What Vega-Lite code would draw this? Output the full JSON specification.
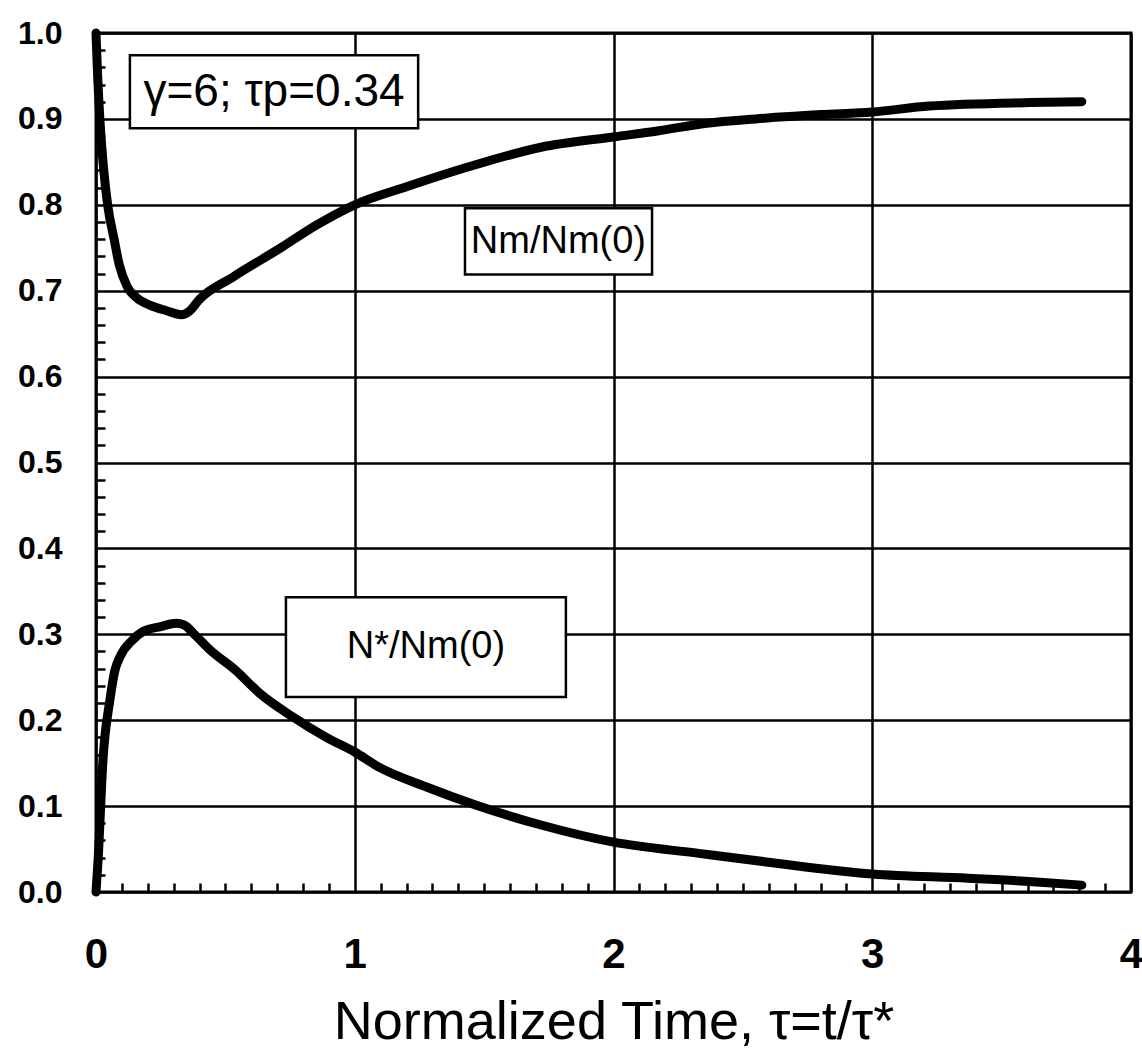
{
  "$schema": "https://vega.github.io/schema/vega-lite/v6.json",
  "width": 1035,
  "height": 859,
  "autosize": {"type": "none"},
  "padding": {"left": 96, "top": 33, "right": 11, "bottom": 165},
  "background": "white",
  "config": {
    "view": {"stroke": "black", "strokeWidth": 3},
    "font": "Liberation Sans"
  },
  "datasets": {
    "curves": [
      {"series": "Nm", "t": 0.0, "v": 1.0},
      {"series": "Nm", "t": 0.005, "v": 0.96},
      {"series": "Nm", "t": 0.015, "v": 0.9},
      {"series": "Nm", "t": 0.03, "v": 0.84},
      {"series": "Nm", "t": 0.045, "v": 0.8},
      {"series": "Nm", "t": 0.07, "v": 0.76},
      {"series": "Nm", "t": 0.09, "v": 0.73},
      {"series": "Nm", "t": 0.12, "v": 0.705},
      {"series": "Nm", "t": 0.16, "v": 0.691},
      {"series": "Nm", "t": 0.21, "v": 0.683},
      {"series": "Nm", "t": 0.27, "v": 0.677},
      {"series": "Nm", "t": 0.33, "v": 0.672},
      {"series": "Nm", "t": 0.36, "v": 0.676},
      {"series": "Nm", "t": 0.4, "v": 0.69},
      {"series": "Nm", "t": 0.53, "v": 0.716},
      {"series": "Nm", "t": 0.72, "v": 0.751},
      {"series": "Nm", "t": 0.85, "v": 0.776},
      {"series": "Nm", "t": 1.0, "v": 0.8},
      {"series": "Nm", "t": 1.2, "v": 0.821},
      {"series": "Nm", "t": 1.46, "v": 0.846},
      {"series": "Nm", "t": 1.72, "v": 0.867},
      {"series": "Nm", "t": 2.0, "v": 0.879},
      {"series": "Nm", "t": 2.17, "v": 0.886},
      {"series": "Nm", "t": 2.36, "v": 0.895},
      {"series": "Nm", "t": 2.55, "v": 0.9},
      {"series": "Nm", "t": 2.8, "v": 0.905},
      {"series": "Nm", "t": 3.0, "v": 0.908},
      {"series": "Nm", "t": 3.22, "v": 0.915},
      {"series": "Nm", "t": 3.61, "v": 0.919},
      {"series": "Nm", "t": 3.81, "v": 0.92},
      {"series": "Ns", "t": 0.0, "v": 0.0},
      {"series": "Ns", "t": 0.008, "v": 0.037},
      {"series": "Ns", "t": 0.027, "v": 0.154},
      {"series": "Ns", "t": 0.054, "v": 0.224},
      {"series": "Ns", "t": 0.073, "v": 0.258},
      {"series": "Ns", "t": 0.093, "v": 0.274},
      {"series": "Ns", "t": 0.14, "v": 0.293},
      {"series": "Ns", "t": 0.18, "v": 0.303},
      {"series": "Ns", "t": 0.25, "v": 0.309},
      {"series": "Ns", "t": 0.31, "v": 0.313},
      {"series": "Ns", "t": 0.34, "v": 0.311},
      {"series": "Ns", "t": 0.39, "v": 0.297},
      {"series": "Ns", "t": 0.44, "v": 0.282},
      {"series": "Ns", "t": 0.54, "v": 0.258},
      {"series": "Ns", "t": 0.63, "v": 0.232},
      {"series": "Ns", "t": 0.76, "v": 0.204},
      {"series": "Ns", "t": 0.89, "v": 0.18},
      {"series": "Ns", "t": 1.0, "v": 0.163},
      {"series": "Ns", "t": 1.09, "v": 0.146},
      {"series": "Ns", "t": 1.28, "v": 0.122},
      {"series": "Ns", "t": 1.47, "v": 0.101},
      {"series": "Ns", "t": 1.72, "v": 0.078},
      {"series": "Ns", "t": 2.0, "v": 0.058},
      {"series": "Ns", "t": 2.33, "v": 0.045},
      {"series": "Ns", "t": 2.59, "v": 0.035},
      {"series": "Ns", "t": 3.0, "v": 0.021},
      {"series": "Ns", "t": 3.37, "v": 0.016},
      {"series": "Ns", "t": 3.62, "v": 0.012},
      {"series": "Ns", "t": 3.81, "v": 0.008}
    ],
    "boxes": [
      {"label": "γ=6; τp=0.34", "t1": 0.131, "t2": 1.245, "v1": 0.889, "v2": 0.974},
      {"label": "Nm/Nm(0)", "t1": 1.426, "t2": 2.149, "v1": 0.719, "v2": 0.796},
      {"label": "N*/Nm(0)", "t1": 0.734, "t2": 1.816, "v1": 0.227, "v2": 0.343}
    ],
    "labels": [
      {"label": "γ=6; τp=0.34", "t": 0.688, "v": 0.931, "size": "big"},
      {"label": "Nm/Nm(0)", "t": 1.787, "v": 0.757, "size": "small"},
      {"label": "N*/Nm(0)", "t": 1.275, "v": 0.285, "size": "small"}
    ]
  },
  "resolve": {"axis": {"x": "independent", "y": "independent"}},
  "layer": [
    {
      "data": {"name": "boxes"},
      "mark": {"type": "rect", "fill": "white", "stroke": "black", "strokeWidth": 2.5},
      "encoding": {
        "x": {"field": "t1", "type": "quantitative", "scale": {"domain": [0, 4], "nice": false, "zero": false},
          "axis": {"orient": "bottom", "values": [0.1,0.2,0.3,0.4,0.5,0.6,0.7,0.8,0.9,1.1,1.2,1.3,1.4,1.5,1.6,1.7,1.8,1.9,2.1,2.2,2.3,2.4,2.5,2.6,2.7,2.8,2.9,3.1,3.2,3.3,3.4,3.5,3.6,3.7,3.8,3.9],
            "grid": false, "labels": false, "domain": false, "title": null, "tickSize": -9, "tickWidth": 2.5, "tickColor": "black"}},
        "x2": {"field": "t2"},
        "y": {"field": "v1", "type": "quantitative", "scale": {"domain": [0, 1], "nice": false, "zero": false},
          "axis": {"orient": "left", "values": [0.02,0.04,0.06,0.08,0.12,0.14,0.16,0.18,0.22,0.24,0.26,0.28,0.32,0.34,0.36,0.38,0.42,0.44,0.46,0.48,0.52,0.54,0.56,0.58,0.62,0.64,0.66,0.68,0.72,0.74,0.76,0.78,0.82,0.84,0.86,0.88,0.92,0.94,0.96,0.98],
            "grid": false, "labels": false, "domain": false, "title": null, "tickSize": -9, "tickWidth": 2.5, "tickColor": "black"}},
        "y2": {"field": "v2"}
      }
    },
    {
      "data": {"name": "labels"},
      "mark": {"type": "text", "align": "center", "baseline": "middle", "color": "black"},
      "encoding": {
        "x": {"field": "t", "type": "quantitative", "axis": null},
        "y": {"field": "v", "type": "quantitative", "axis": null},
        "text": {"field": "label"},
        "size": {"field": "size", "type": "nominal", "scale": {"domain": ["big", "small"], "range": [46, 38]}, "legend": null}
      }
    },
    {
      "data": {"name": "curves"},
      "mark": {"type": "line", "color": "black", "strokeWidth": 9, "strokeJoin": "round", "strokeCap": "round", "interpolate": "monotone"},
      "encoding": {
        "x": {"field": "t", "type": "quantitative",
          "axis": {"orient": "bottom", "values": [0, 1, 2, 3, 4], "grid": true, "gridColor": "black", "gridWidth": 2.5, "gridOpacity": 1,
            "ticks": false, "tickSize": 0, "domain": false, "labelFontSize": 42, "labelFontWeight": "bold", "labelColor": "black",
            "labelPadding": 42, "labelFlush": false, "labelFont": "Liberation Sans",
            "title": "Normalized Time, τ=t/τ*", "titleFontSize": 54, "titleFontWeight": "normal", "titleColor": "black", "titlePadding": 20, "titleFont": "Liberation Sans"}},
        "y": {"field": "v", "type": "quantitative",
          "axis": {"orient": "left", "values": [0, 0.1, 0.2, 0.3, 0.4, 0.5, 0.6, 0.7, 0.8, 0.9, 1.0], "format": ".1f", "grid": true, "gridColor": "black", "gridWidth": 2.5, "gridOpacity": 1,
            "ticks": false, "tickSize": 0, "domain": false, "labelFontSize": 32, "labelFontWeight": "bold", "labelColor": "black",
            "labelPadding": 34, "labelFlush": false, "labelFont": "Liberation Sans", "title": null}},
        "detail": {"field": "series", "type": "nominal"}
      }
    }
  ]
}
